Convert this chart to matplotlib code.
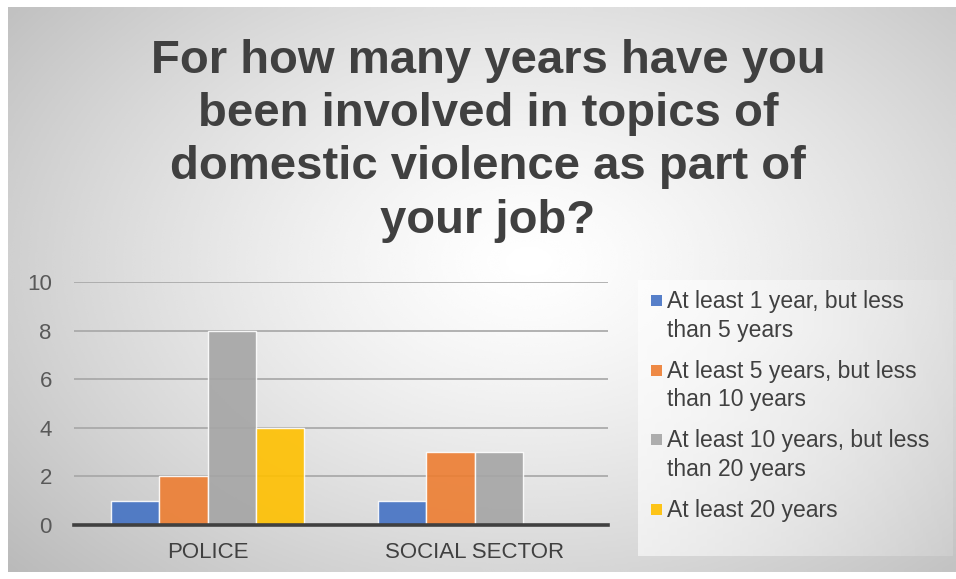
import numpy as np
import matplotlib as mpl
mpl.use("Agg")
import matplotlib.pyplot as plt
from matplotlib.patches import Rectangle

######################################################################
# data
######################################################################
categories = ['POLICE', 'SOCIAL SECTOR']
series_names = ['At least 1 year, but less\nthan 5 years',
                'At least 5 years, but less\nthan 10 years',
                'At least 10 years, but less\nthan 20 years',
                'At least 20 years']
series_values = [[1, 1],
                 [2, 3],
                 [8, 3],
                 [4, 0]]
series_colors = ['#4472C4', '#ED7D31', '#A5A5A5', '#FFC000']
y_ticks = [0, 2, 4, 6, 8, 10]
title = 'For how many years have you\nbeen involved in topics of\ndomestic violence as part of\nyour job?'

######################################################################
# figure
######################################################################
W, H = 956, 579
plt.rcParams['font.family'] = ['Liberation Sans', 'DejaVu Sans']
fig = plt.figure(figsize=(W / 100, H / 100), dpi=100)
fig.patch.set_facecolor('white')

# radial gradient background of the chart area
bg = fig.add_axes([8 / W, (H - 572) / H, (W - 8) / W, (572 - 7) / H])
yy, xx = np.mgrid[0:1:300j, 0:1:500j]
r = np.sqrt(((xx - 0.55) / 0.75) ** 2 + ((yy - 0.45) / 0.85) ** 2)
shade = np.clip(1 - 0.28 * r ** 1.3, 0.72, 1)
bg.imshow(shade, cmap='gray', vmin=0, vmax=1, aspect='auto',
          extent=[0, 1, 1, 0], interpolation='bicubic')
bg.set_xlim(0, 1)
bg.set_ylim(1, 0)
bg.axis('off')

# lighter legend panel, fading towards the right
panel = fig.add_axes([638 / W, (H - 556) / H, (953 - 638) / W, (556 - 280) / H])
ramp = np.linspace(1, 0, 200)[None, :]
panel.imshow(np.ones((1, 200)), cmap='gray', vmin=0, vmax=1, aspect='auto',
             alpha=0.15 + 0.45 * ramp, extent=[0, 1, 0, 1])
panel.axis('off')

fig.text(488 / W, 1 - 39 / H, title, ha='center', va='top', fontsize=34,
         fontweight='bold', color='#404040', linespacing=1.27)

ax = fig.add_axes([74 / W, (H - 525) / H, (608 - 74) / W, (525 - 282) / H])
ax.set_facecolor('none')
x = np.arange(len(categories))
w = 0.18
for j, vals in enumerate(series_values):
    ax.bar(x + (j - 1.5) * w, vals, w, color=series_colors[j], alpha=0.9,
           edgecolor=(1, 1, 1, 0.6), linewidth=1, zorder=3)

ax.set_xlim(-0.5, len(categories) - 0.5)
ax.set_ylim(0, 10)
ax.set_yticks(y_ticks)
ax.set_xticks(x)
ax.set_xticklabels(categories)
ax.tick_params(axis='y', length=0, pad=16, labelsize=16, labelcolor='#595959')
ax.tick_params(axis='x', length=0, pad=12, labelsize=16, labelcolor='#404040')
ax.grid(axis='y', color='#a6a6a6', linewidth=1.2, zorder=0)
for s in ['top', 'right', 'left']:
    ax.spines[s].set_visible(False)
ax.spines['bottom'].set_color('#404040')
ax.spines['bottom'].set_linewidth(2.6)
ax.spines['bottom'].set_zorder(4)

# legend drawn by hand so the square sits at the first line
for j, name in enumerate(series_names):
    top = 290 + j * 69.7
    fig.patches.append(Rectangle((651 / W, (H - top - 16) / H), 11 / W, 11 / H,
                                 transform=fig.transFigure, facecolor=series_colors[j],
                                 alpha=0.9, edgecolor='none', zorder=2))
    fig.text(667 / W, (H - top) / H, name, ha='left', va='top',
             fontsize=16.5, color='#404040', linespacing=1.32)

fig.savefig('out.png', dpi=100)
